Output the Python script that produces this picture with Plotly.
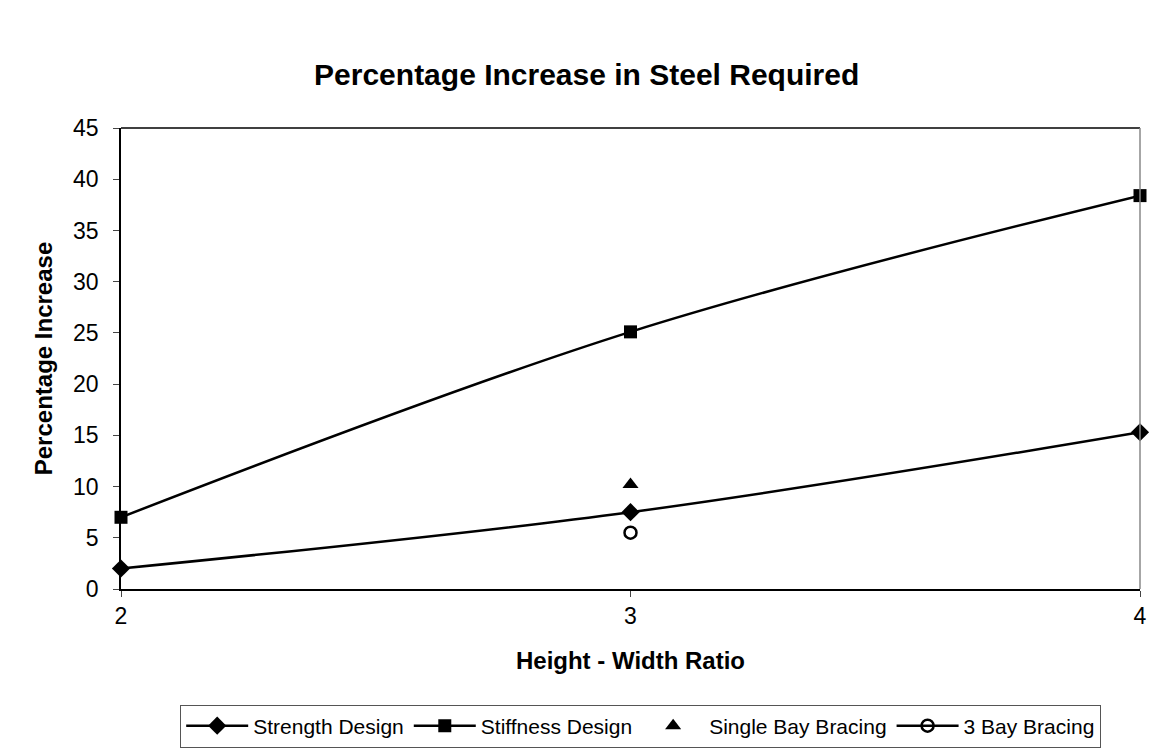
import plotly.graph_objects as go

ratios = [2, 3, 4]
strength_design = [2.0, 7.5, 15.3]
stiffness_design = [7.0, 25.1, 38.4]
single_bay_x = [3]
single_bay = [10.2]
three_bay_x = [3]
three_bay = [5.5]

font_family = "Liberation Sans, Arial, sans-serif"

fig = go.Figure()
fig.add_trace(go.Scatter(
    x=ratios, y=strength_design, name="Strength Design",
    mode="lines+markers", cliponaxis=False,
    line=dict(color="black", width=2.5, shape="spline", smoothing=1.0),
    marker=dict(symbol="diamond", size=14, color="black"),
))
fig.add_trace(go.Scatter(
    x=ratios, y=stiffness_design, name="Stiffness Design",
    mode="lines+markers", cliponaxis=False,
    line=dict(color="black", width=2.5, shape="spline", smoothing=1.0),
    marker=dict(symbol="square", size=13, color="black"),
))
fig.add_trace(go.Scatter(
    x=single_bay_x, y=single_bay, name="Single Bay Bracing",
    mode="markers", cliponaxis=False,
    marker=dict(symbol="triangle-up", size=14, color="black"),
))
fig.add_trace(go.Scatter(
    x=three_bay_x, y=three_bay, name="3 Bay Bracing",
    mode="lines+markers", cliponaxis=False,
    line=dict(color="black", width=2.5),
    marker=dict(symbol="circle-open", size=12, color="black", line=dict(width=2.5)),
))

fig.update_layout(
    width=1159, height=749,
    paper_bgcolor="white", plot_bgcolor="white",
    margin=dict(l=121, r=19, t=128, b=160),
    font=dict(family=font_family, size=20, color="black"),
    title=dict(text="<b>Percentage Increase in Steel Required</b>",
               x=0.457, xanchor="center", y=0.9, yanchor="middle",
               xref="paper", font=dict(size=30, family=font_family)),
    showlegend=True,
    legend=dict(orientation="h", x=0.51, xanchor="center",
                yref="container", y=0.002, yanchor="bottom",
                bordercolor="#555", borderwidth=1,
                font=dict(size=21, family=font_family),
                itemwidth=62, tracegroupgap=0),
)
fig.update_xaxes(
    range=[2, 4], tickvals=[2, 3, 4], ticks="outside", ticklen=6,
    tickfont=dict(size=23, family=font_family),
    showline=True, linecolor="black", linewidth=1.5, mirror=False,
    showgrid=False, zeroline=False,
    title=dict(text="<b>Height - Width Ratio</b>",
               font=dict(size=24, family=font_family), standoff=24),
)
fig.update_yaxes(
    range=[0, 45], dtick=5, ticks="outside", ticklen=6, ticklabelstandoff=10,
    tickfont=dict(size=23, family=font_family),
    showline=True, linecolor="black", linewidth=1.5,
    showgrid=False, zeroline=False,
    title=dict(text="<b>Percentage Increase</b>",
               font=dict(size=24, family=font_family), standoff=14),
)
# plot frame: dark top edge, grey right edge
fig.add_shape(type="line", xref="paper", yref="paper", x0=0, x1=1, y0=1, y1=1,
              line=dict(color="black", width=1.5))
fig.add_shape(type="line", xref="paper", yref="paper", x0=1, x1=1, y0=0, y1=1,
              line=dict(color="#888", width=1.5))

fig.write_html("out.html")
